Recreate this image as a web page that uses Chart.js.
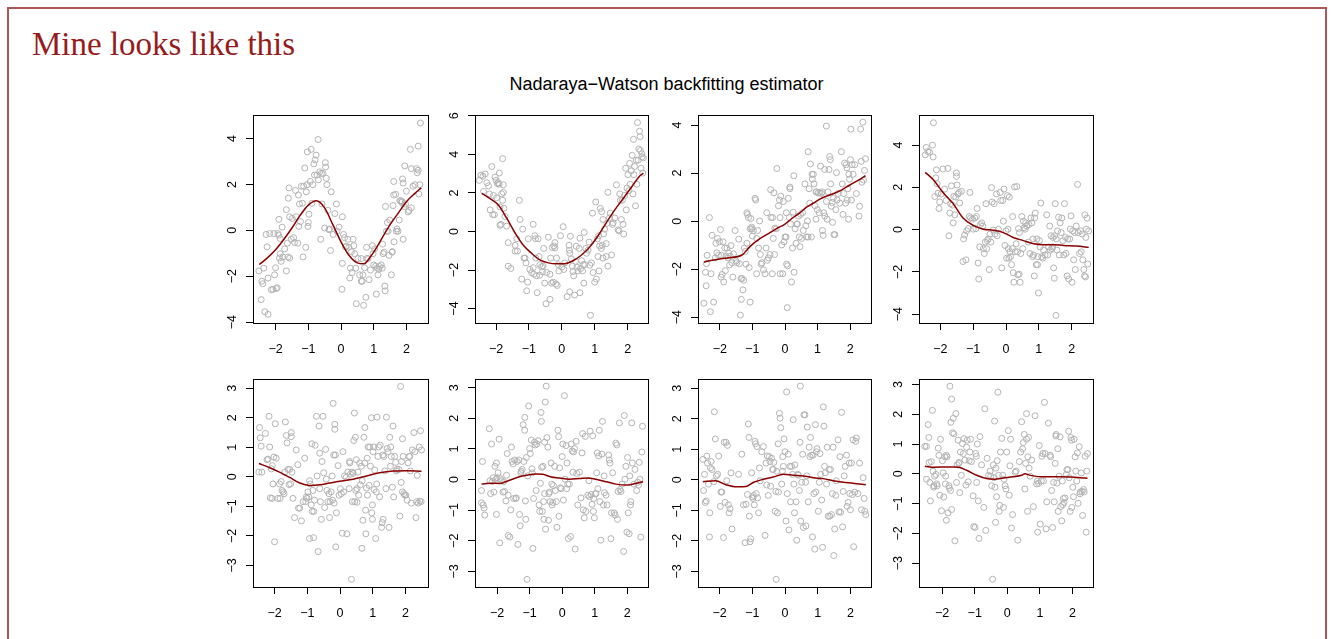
<!DOCTYPE html>
<html><head><meta charset="utf-8">
<script src="https://cdn.jsdelivr.net/npm/chart.js@4.4.0/dist/chart.umd.min.js"></script>
<style>
html,body{margin:0;padding:0;background:#fff;}
body{width:1332px;height:639px;overflow:hidden;position:relative;}
#frame{position:absolute;left:7px;top:7px;width:1320px;height:700px;border:2px solid #b05555;box-sizing:border-box;}
#slideTitle{position:absolute;left:32px;top:28px;font-family:"Liberation Serif","Times New Roman",serif;font-size:33px;line-height:33px;color:#961c1c;white-space:nowrap;}
#mainTitle{position:absolute;left:0;width:1333px;top:75px;text-align:center;font-family:"Liberation Sans",Arial,sans-serif;font-size:18px;line-height:18px;color:#000;white-space:nowrap;}
canvas{position:absolute;}
</style></head><body>
<div id="frame"></div>
<div id="slideTitle">Mine looks like this</div>
<div id="mainTitle">Nadaraya&#8722;Watson backfitting estimator</div>
<script>
const xTicks = [-2,-1,0,1,2];
const yTicksA = [-4,-2,0,2,4];
const yTicksB = [-4,-2,0,2,4,6];
const yTicksC = [-3,-2,-1,0,1,2,3];

const pts1 = [[-2.51,-1.77],[-2.44,-3.02],[-2.42,-2.22],[-2.39,-2.33],[-2.36,-1.65],[-2.33,-3.55],[-2.23,-3.66],[-2.29,-0.18],[-2.23,-2.08],[-2.26,-0.72],[-2.18,-0.14],[-2.13,-2.59],[-2.08,-2.57],[-2.05,-0.14],[-2.03,-1.94],[-2.00,-1.63],[-1.98,-2.54],[-1.95,-2.50],[-1.93,-0.14],[-1.90,-0.21],[-1.88,-1.21],[-1.86,-1.02],[-1.86,-0.36],[-1.83,-1.35],[-1.90,0.48],[-1.78,-1.16],[-1.80,0.14],[-1.72,-0.81],[-1.67,-1.77],[-1.67,0.90],[-1.64,-0.56],[-1.62,-1.16],[-1.59,1.85],[-1.61,1.40],[-1.57,0.59],[-1.57,-1.21],[-1.52,-0.39],[-1.49,0.52],[-1.45,-0.32],[-1.42,-0.53],[-1.39,1.74],[-1.37,0.59],[-1.32,-0.56],[-1.30,1.54],[-1.29,0.17],[-1.27,1.15],[-1.24,0.38],[-1.21,1.92],[-1.18,1.18],[-1.16,-1.16],[-1.14,1.92],[-1.11,2.72],[-1.08,-0.74],[-1.06,1.68],[-1.04,1.99],[-1.03,3.42],[-1.01,0.17],[-1.00,0.34],[-0.98,0.70],[-0.94,2.13],[-0.91,3.53],[-0.89,1.18],[-0.86,1.99],[-0.83,2.90],[-0.81,2.41],[-0.79,3.07],[-0.76,3.28],[-0.73,2.41],[-0.70,3.96],[-0.69,2.20],[-0.65,2.55],[-0.62,-0.39],[-0.60,2.48],[-0.58,1.15],[-0.55,2.48],[-0.50,0.10],[-0.48,2.95],[-0.47,2.76],[-0.45,2.27],[-0.43,1.99],[-0.40,0.87],[-0.37,0.03],[-0.35,0.06],[-0.30,1.68],[-0.32,-0.88],[-0.24,-0.18],[-0.19,0.73],[-0.14,1.15],[-0.12,-0.04],[-0.06,0.14],[0.04,0.59],[0.03,-2.57],[0.04,-1.44],[0.08,-0.18],[0.11,-0.32],[0.14,-0.72],[0.16,-0.70],[0.21,-0.39],[0.24,-0.74],[0.27,-2.08],[0.29,-1.65],[0.32,-0.93],[0.34,-1.84],[0.37,-0.39],[0.39,-0.67],[0.42,-1.02],[0.45,-1.65],[0.47,-3.20],[0.52,-1.23],[0.57,-1.94],[0.62,-1.23],[0.62,-2.22],[0.65,-2.22],[0.67,-1.94],[0.69,-3.27],[0.72,-1.63],[0.76,-2.92],[0.78,-0.74],[0.79,-1.23],[0.83,-1.23],[0.86,-2.15],[0.90,-1.73],[0.96,-0.67],[0.98,-1.02],[1.00,-1.51],[1.03,-0.81],[1.06,-1.56],[1.08,-2.78],[1.10,-1.65],[1.13,-1.94],[1.16,-1.69],[1.18,-1.58],[1.23,-1.51],[1.26,-1.65],[1.27,-0.60],[1.29,-1.02],[1.32,-0.95],[1.34,-2.43],[1.35,-2.64],[1.36,1.04],[1.39,-0.04],[1.42,0.34],[1.44,-0.04],[1.47,-1.09],[1.49,0.45],[1.54,-1.94],[1.56,-0.95],[1.57,-0.93],[1.59,1.08],[1.61,1.54],[1.61,2.13],[1.62,-0.50],[1.67,1.57],[1.69,-0.04],[1.71,0.06],[1.74,-0.04],[1.78,0.45],[1.80,1.29],[1.83,1.29],[1.85,1.22],[1.87,1.25],[1.88,2.24],[1.90,-0.39],[1.90,2.06],[1.93,1.04],[1.95,2.81],[1.97,1.15],[2.00,1.71],[2.05,0.80],[2.08,0.87],[2.12,3.53],[2.15,0.98],[2.15,2.69],[2.20,1.92],[2.26,1.99],[2.31,2.69],[2.33,2.51],[2.36,3.67],[2.36,2.62],[2.38,1.58],[2.41,1.99],[2.43,4.68]];
const fit1 = [[-2.5,-1.49],[-2.25,-1.2],[-2.0,-0.85],[-1.75,-0.4],[-1.5,0.1],[-1.25,0.65],[-1.0,1.1],[-0.75,1.29],[-0.5,0.98],[-0.25,0.25],[0.0,-0.5],[0.25,-1.1],[0.5,-1.42],[0.7,-1.46],[0.9,-1.15],[1.0,-0.95],[1.25,-0.35],[1.5,0.25],[1.75,0.75],[2.0,1.25],[2.25,1.6],[2.45,1.85]];

const pts2 = [[-2.51,2.65],[-2.46,2.92],[-2.40,2.87],[-2.33,2.98],[-2.38,2.08],[-2.28,2.53],[-2.23,2.37],[-2.20,1.95],[-2.18,1.12],[-2.13,3.37],[-2.10,0.87],[-2.08,1.87],[-2.05,0.87],[-2.03,2.82],[-2.00,2.65],[-1.98,1.75],[-1.96,2.48],[-1.93,2.53],[-1.91,2.45],[-1.90,3.03],[-1.88,1.28],[-1.88,0.32],[-1.85,0.37],[-1.83,1.95],[-1.80,3.78],[-1.80,1.62],[-1.78,2.03],[-1.78,2.42],[-1.76,1.20],[-1.73,0.78],[-1.68,0.28],[-1.63,-0.58],[-1.63,-1.80],[-1.55,-1.92],[-1.42,-0.72],[-1.42,-1.02],[-1.37,-0.38],[-1.35,-1.02],[-1.29,1.62],[-1.27,0.62],[-1.22,-2.47],[-1.19,0.12],[-1.15,-1.38],[-1.12,-1.38],[-1.09,-1.63],[-1.07,-3.08],[-1.04,-2.63],[-1.02,-0.38],[-0.97,-1.97],[-0.92,-2.13],[-0.87,0.37],[-0.87,-1.88],[-0.85,-2.22],[-0.82,-0.22],[-0.80,-0.38],[-0.79,-1.38],[-0.77,-2.30],[-0.75,-3.18],[-0.72,-0.38],[-0.69,-1.30],[-0.67,-1.72],[-0.67,-2.27],[-0.62,-1.83],[-0.59,-2.10],[-0.57,-1.80],[-0.55,-0.88],[-0.52,-2.68],[-0.48,-3.75],[-0.46,-2.13],[-0.41,-0.30],[-0.36,-3.52],[-0.36,-2.22],[-0.34,-1.38],[-0.31,-2.68],[-0.29,-0.83],[-0.26,-2.63],[-0.24,-0.75],[-0.21,-0.85],[-0.21,-0.58],[-0.18,-2.72],[-0.16,-1.38],[-0.14,-2.80],[-0.11,-1.72],[-0.09,-2.05],[-0.04,-0.22],[0.00,-1.85],[0.04,0.25],[0.06,-1.97],[0.09,-1.63],[0.16,-3.38],[0.22,-0.72],[0.23,-0.97],[0.24,-1.13],[0.24,-3.13],[0.26,-0.25],[0.29,-1.42],[0.32,-1.80],[0.34,-2.08],[0.36,-2.30],[0.39,-3.30],[0.42,-1.55],[0.44,-0.77],[0.46,-1.85],[0.49,-2.05],[0.53,-0.88],[0.55,-0.35],[0.55,-3.18],[0.57,-1.92],[0.60,-1.52],[0.63,-2.05],[0.65,-1.72],[0.67,-2.68],[0.68,-0.05],[0.70,-1.72],[0.73,-0.88],[0.75,-1.13],[0.80,-0.97],[0.83,-0.55],[0.85,-1.75],[0.87,-4.35],[0.90,-1.63],[0.93,0.95],[0.95,-2.13],[1.00,-2.63],[1.03,1.53],[1.05,-2.47],[1.08,-0.38],[1.10,-1.30],[1.12,-0.22],[1.13,-2.05],[1.15,-0.75],[1.17,1.20],[1.20,-0.88],[1.21,1.03],[1.23,-0.72],[1.25,0.62],[1.25,-1.38],[1.27,-0.13],[1.30,0.12],[1.35,-1.30],[1.35,-0.63],[1.37,0.42],[1.40,2.03],[1.40,-1.80],[1.45,0.70],[1.47,0.95],[1.51,-1.22],[1.54,0.37],[1.56,0.45],[1.61,0.70],[1.66,2.42],[1.71,0.08],[1.74,0.03],[1.76,1.95],[1.78,1.62],[1.81,0.62],[1.84,1.62],[1.86,0.37],[1.88,-0.13],[1.91,1.87],[1.94,3.28],[1.96,1.12],[1.98,2.25],[2.01,2.95],[2.04,2.12],[2.06,3.53],[2.08,2.45],[2.11,3.15],[2.14,3.95],[2.16,1.95],[2.18,4.78],[2.19,2.95],[2.21,3.37],[2.24,1.33],[2.26,3.70],[2.28,2.45],[2.30,5.65],[2.32,3.70],[2.34,4.28],[2.36,5.20],[2.38,4.92],[2.39,4.20],[2.41,3.28],[2.43,4.03],[2.44,3.87],[2.46,3.03],[2.48,3.82]];
const fit2 = [[-2.43,1.98],[-2.18,1.70],[-1.93,1.37],[-1.68,0.70],[-1.42,-0.08],[-1.17,-0.72],[-0.92,-1.13],[-0.67,-1.47],[-0.41,-1.63],[-0.16,-1.68],[0.09,-1.67],[0.34,-1.52],[0.60,-1.22],[0.85,-0.80],[1.10,-0.22],[1.35,0.45],[1.61,1.12],[1.86,1.70],[2.11,2.28],[2.36,2.87],[2.48,3.03]];

const pts3 = [[-2.49,-3.42],[-2.44,-2.13],[-2.42,-2.69],[-2.41,-1.77],[-2.39,-1.42],[-2.32,0.15],[-2.29,-3.77],[-2.27,-2.19],[-2.24,-0.59],[-2.19,-3.37],[-2.14,-1.53],[-2.12,-0.92],[-2.09,-1.32],[-2.07,-0.72],[-2.04,-1.42],[-2.01,-0.86],[-1.98,-0.35],[-1.96,-2.33],[-1.95,-1.42],[-1.93,-2.22],[-1.90,-0.86],[-1.88,-2.53],[-1.85,-1.12],[-1.83,-2.06],[-1.81,-1.46],[-1.78,-1.12],[-1.75,-1.53],[-1.73,-1.32],[-1.70,-1.82],[-1.68,-1.46],[-1.66,-1.02],[-1.63,-1.73],[-1.60,-2.33],[-1.58,-1.36],[-1.53,-0.39],[-1.50,-1.66],[-1.48,-1.73],[-1.42,-0.75],[-1.40,-1.77],[-1.37,-3.91],[-1.35,-2.39],[-1.34,-3.26],[-1.32,-2.39],[-1.29,-2.86],[-1.27,-2.46],[-1.25,-1.12],[-1.22,-1.26],[-1.20,-1.79],[-1.17,-0.92],[-1.17,0.35],[-1.15,0.28],[-1.12,0.15],[-1.10,-1.93],[-1.07,-3.37],[-1.07,-0.32],[-1.05,0.11],[-1.02,-0.25],[-1.02,-0.32],[-1.00,-0.62],[-0.97,-0.39],[-0.92,0.95],[-0.90,0.88],[-0.87,-2.19],[-0.87,-0.72],[-0.84,-0.39],[-0.81,-1.12],[-0.78,0.01],[-0.76,-1.39],[-0.73,-1.79],[-0.71,-1.73],[-0.66,-2.03],[-0.61,-2.19],[-0.58,-1.12],[-0.56,0.35],[-0.54,-1.63],[-0.51,-1.53],[-0.46,-1.39],[-0.44,1.31],[-0.43,0.15],[-0.39,-2.19],[-0.38,0.15],[-0.36,-0.72],[-0.34,1.18],[-0.32,-1.39],[-0.31,-0.29],[-0.27,-0.32],[-0.25,2.19],[-0.20,0.64],[-0.17,0.88],[-0.15,-2.19],[-0.15,0.15],[-0.13,1.04],[-0.10,-0.99],[-0.07,-2.19],[-0.05,0.82],[-0.03,-0.86],[0.00,-0.66],[0.03,-0.66],[0.04,0.35],[0.05,-1.79],[0.07,-3.60],[0.08,-1.86],[0.10,0.95],[0.13,0.15],[0.15,1.42],[0.15,1.35],[0.17,-0.12],[0.20,-2.53],[0.23,-1.12],[0.25,0.37],[0.27,1.89],[0.28,-2.13],[0.31,-0.32],[0.34,-0.92],[0.36,-0.12],[0.38,-0.12],[0.41,0.21],[0.44,-0.66],[0.46,-1.06],[0.48,0.28],[0.51,-0.72],[0.54,0.35],[0.56,-0.39],[0.61,1.55],[0.64,-0.19],[0.66,-0.66],[0.69,0.01],[0.71,-0.66],[0.71,2.89],[0.74,1.35],[0.76,0.75],[0.78,2.38],[0.81,-0.66],[0.83,1.95],[0.84,1.75],[0.87,1.95],[0.89,1.55],[0.92,0.64],[0.95,1.22],[0.95,0.08],[0.97,1.22],[0.99,0.48],[1.02,1.18],[1.05,0.35],[1.07,1.18],[1.09,2.29],[1.12,1.15],[1.14,1.22],[1.15,-0.39],[1.17,-0.59],[1.19,0.35],[1.22,2.15],[1.22,0.21],[1.27,3.96],[1.27,0.82],[1.29,0.08],[1.32,1.22],[1.35,2.15],[1.37,2.69],[1.39,2.56],[1.40,1.55],[1.42,0.62],[1.45,0.78],[1.46,-0.05],[1.48,0.95],[1.50,-0.56],[1.53,-0.56],[1.56,0.48],[1.58,2.02],[1.60,0.88],[1.63,1.15],[1.68,0.75],[1.73,2.89],[1.76,1.55],[1.78,0.28],[1.80,1.15],[1.83,2.42],[1.86,0.75],[1.88,2.35],[1.90,2.22],[1.91,0.88],[1.93,1.35],[1.95,0.08],[1.96,1.95],[1.98,1.75],[2.01,2.56],[2.02,3.83],[2.04,0.88],[2.06,2.35],[2.09,1.95],[2.14,2.35],[2.19,1.15],[2.27,0.21],[2.29,0.62],[2.32,3.83],[2.34,2.49],[2.36,1.62],[2.39,4.12],[2.41,1.71],[2.44,2.11],[2.47,2.60]];
const fit3 = [[-2.49,-1.70],[-2.19,-1.62],[-1.78,-1.53],[-1.32,-1.41],[-1.07,-1.05],[-0.76,-0.72],[-0.46,-0.48],[-0.25,-0.30],[0.0,-0.12],[0.20,0.10],[0.46,0.35],[0.66,0.58],[0.87,0.75],[1.07,0.92],[1.27,1.04],[1.48,1.14],[1.68,1.26],[1.88,1.42],[2.09,1.58],[2.28,1.73],[2.47,1.89]];

const pts4 = [[-2.46,3.54],[-2.43,3.89],[-2.38,3.70],[-2.33,3.67],[-2.24,4.00],[-2.22,3.44],[-2.21,5.06],[-2.17,1.57],[-2.14,2.45],[-2.12,2.83],[-2.10,2.17],[-2.07,1.72],[-2.04,1.00],[-2.02,1.31],[-1.97,1.69],[-1.92,2.87],[-1.87,1.92],[-1.82,1.38],[-1.77,2.90],[-1.74,-0.29],[-1.71,0.78],[-1.69,1.23],[-1.66,2.07],[-1.63,1.16],[-1.61,0.32],[-1.59,1.57],[-1.56,0.70],[-1.53,1.54],[-1.51,2.52],[-1.51,2.68],[-1.49,2.11],[-1.46,1.69],[-1.43,1.76],[-1.41,1.26],[-1.36,1.81],[-1.31,-1.51],[-1.29,-0.44],[-1.26,-0.26],[-1.22,-1.43],[-1.20,-0.06],[-1.15,0.05],[-1.12,0.62],[-1.10,1.76],[-1.08,0.55],[-1.02,0.50],[-1.00,0.02],[-0.95,0.55],[-0.92,0.05],[-0.90,0.62],[-0.88,1.00],[-0.85,-1.58],[-0.83,-2.34],[-0.80,-0.82],[-0.78,0.24],[-0.74,0.32],[-0.71,0.17],[-0.69,-0.90],[-0.66,-1.13],[-0.63,-0.59],[-0.61,1.23],[-0.59,-0.90],[-0.57,-0.52],[-0.54,-0.44],[-0.51,-1.89],[-0.49,-0.21],[-0.46,-0.59],[-0.44,1.99],[-0.42,1.31],[-0.39,-0.02],[-0.36,1.23],[-0.34,-0.21],[-0.29,1.69],[-0.27,-0.29],[-0.23,0.02],[-0.18,1.76],[-0.16,1.38],[-0.13,-1.81],[-0.10,1.38],[-0.08,0.40],[-0.06,1.92],[-0.03,-0.75],[0.00,-0.06],[0.02,-1.35],[0.04,1.61],[0.06,0.02],[0.07,-0.90],[0.09,-1.35],[0.10,1.54],[0.12,-1.05],[0.14,-1.28],[0.17,-1.66],[0.19,-0.90],[0.20,0.62],[0.22,-2.04],[0.24,-2.49],[0.26,2.02],[0.28,-1.05],[0.31,-0.67],[0.33,2.04],[0.35,-1.05],[0.36,-2.14],[0.38,0.05],[0.40,-2.11],[0.41,-0.14],[0.43,-2.49],[0.45,-1.13],[0.48,0.62],[0.51,-0.90],[0.53,0.40],[0.55,0.09],[0.58,0.02],[0.60,0.32],[0.63,0.17],[0.68,-0.59],[0.70,0.24],[0.73,-1.13],[0.76,0.55],[0.79,0.32],[0.81,-1.28],[0.82,-0.44],[0.84,-1.20],[0.86,-2.19],[0.87,0.55],[0.89,0.78],[0.92,-1.66],[0.94,-0.44],[0.96,-1.66],[0.97,-1.28],[0.99,-3.00],[1.02,-0.52],[1.04,-0.82],[1.06,1.26],[1.09,-1.28],[1.12,-1.35],[1.14,-0.97],[1.19,-1.20],[1.24,0.70],[1.27,-1.20],[1.30,-0.82],[1.33,0.17],[1.35,-0.97],[1.37,-0.29],[1.40,-0.90],[1.42,-0.82],[1.43,-0.37],[1.45,-1.81],[1.47,-2.30],[1.48,-0.29],[1.50,1.23],[1.52,-4.06],[1.53,-0.44],[1.55,-0.97],[1.57,-0.06],[1.60,0.59],[1.62,-1.20],[1.65,0.32],[1.68,-0.14],[1.70,0.55],[1.73,-0.52],[1.76,-1.20],[1.78,1.23],[1.81,-0.37],[1.83,-1.13],[1.86,-2.19],[1.88,-0.44],[1.91,-2.34],[1.94,-0.44],[1.96,0.02],[1.98,0.65],[2.01,-2.49],[2.03,-0.06],[2.06,-1.43],[2.09,-0.14],[2.11,-1.89],[2.14,0.17],[2.18,2.14],[2.20,-0.14],[2.24,-1.13],[2.27,-0.06],[2.29,-1.05],[2.32,-0.21],[2.34,-1.43],[2.37,-1.89],[2.39,-2.19],[2.40,0.70],[2.42,-2.24],[2.43,-0.37],[2.45,0.02],[2.47,0.55],[2.49,-1.63],[2.52,-0.06]];
const fit4 = [[-2.46,2.71],[-2.22,2.37],[-1.92,1.76],[-1.61,1.23],[-1.31,0.55],[-1.00,0.20],[-0.69,0.02],[-0.39,-0.03],[-0.08,-0.14],[0.22,-0.37],[0.53,-0.52],[0.84,-0.67],[1.14,-0.71],[1.45,-0.71],[1.76,-0.75],[2.16,-0.78],[2.52,-0.84]];

const pts5 = [[-2.48,0.16],[-2.46,1.67],[-2.44,1.32],[-2.41,1.04],[-2.39,0.16],[-2.28,1.47],[-2.23,0.58],[-2.20,0.60],[-2.17,2.05],[-2.15,1.01],[-2.13,-0.71],[-2.10,0.27],[-2.08,-0.73],[-2.07,0.38],[-2.05,-0.24],[-2.02,0.67],[-2.00,-2.20],[-1.98,1.80],[-1.95,0.63],[-1.90,-0.73],[-1.85,-0.24],[-1.83,-0.73],[-1.80,-0.16],[-1.77,-0.46],[-1.74,-0.51],[-1.71,-0.57],[-1.69,0.16],[-1.67,1.86],[-1.64,1.40],[-1.62,1.15],[-1.59,0.25],[-1.56,-0.26],[-1.54,0.25],[-1.51,-0.24],[-1.49,1.50],[-1.49,1.36],[-1.47,0.16],[-1.44,-0.73],[-1.39,-1.38],[-1.34,0.91],[-1.29,0.41],[-1.27,-1.06],[-1.23,-1.06],[-1.18,-1.49],[-1.13,-0.84],[-1.08,0.63],[-1.05,-0.84],[-1.03,-0.68],[-1.01,-0.73],[-0.98,-0.51],[-0.95,-0.68],[-0.93,-2.09],[-0.93,-0.13],[-0.91,-0.24],[-0.88,-0.95],[-0.86,1.12],[-0.85,-1.17],[-0.83,-0.46],[-0.81,-2.06],[-0.80,-1.17],[-0.78,-0.79],[-0.76,1.07],[-0.72,2.05],[-0.70,0.03],[-0.67,-2.53],[-0.64,1.72],[-0.62,0.80],[-0.62,-0.40],[-0.60,-0.84],[-0.57,-1.44],[-0.55,0.52],[-0.52,2.05],[-0.50,0.14],[-0.47,-1.04],[-0.44,0.93],[-0.42,-0.08],[-0.40,-0.46],[-0.37,-0.84],[-0.34,-0.57],[-0.32,-1.38],[-0.30,-0.84],[-0.27,-0.51],[-0.24,0.03],[-0.23,-0.79],[-0.21,2.49],[-0.19,0.74],[-0.18,-0.89],[-0.16,1.78],[-0.16,1.61],[-0.14,0.74],[-0.13,-2.37],[-0.11,-1.22],[-0.06,0.38],[-0.03,-0.62],[0.01,-0.40],[0.04,-0.57],[0.07,-1.91],[0.09,0.85],[0.11,-0.51],[0.14,0.03],[0.19,-0.02],[0.21,-1.93],[0.24,0.16],[0.28,-0.40],[0.29,0.52],[0.30,0.47],[0.32,0.09],[0.35,-3.47],[0.37,0.16],[0.38,-0.84],[0.40,0.12],[0.42,1.23],[0.44,2.16],[0.45,-0.84],[0.47,1.34],[0.48,-0.46],[0.50,0.58],[0.52,-0.40],[0.52,-0.86],[0.55,0.16],[0.57,-0.62],[0.60,0.47],[0.62,-0.27],[0.65,0.36],[0.67,-2.42],[0.68,-0.13],[0.70,-1.47],[0.73,1.34],[0.76,0.47],[0.76,1.67],[0.78,-1.13],[0.79,-1.93],[0.81,-0.38],[0.83,0.63],[0.84,-0.62],[0.86,1.01],[0.89,-0.29],[0.91,1.01],[0.93,0.36],[0.96,2.00],[0.97,-1.22],[0.99,-0.95],[0.99,-1.44],[1.01,0.85],[1.03,1.01],[1.04,-0.43],[1.06,0.23],[1.09,-2.09],[1.11,-0.51],[1.12,-0.24],[1.13,2.02],[1.16,0.69],[1.18,1.01],[1.21,-0.68],[1.23,1.07],[1.27,-1.71],[1.29,-1.55],[1.31,0.74],[1.32,-1.44],[1.34,0.69],[1.37,0.20],[1.40,-0.40],[1.42,2.02],[1.44,0.96],[1.47,0.85],[1.50,-1.71],[1.52,1.34],[1.54,0.36],[1.55,1.01],[1.57,0.69],[1.60,-0.35],[1.62,1.72],[1.64,-0.68],[1.67,0.69],[1.70,0.49],[1.72,0.20],[1.74,0.25],[1.80,0.25],[1.83,-1.33],[1.85,3.06],[1.87,-0.19],[1.88,0.52],[1.91,1.29],[1.91,-0.51],[1.93,0.69],[1.95,-0.57],[1.98,-0.62],[2.01,-0.62],[2.05,-0.79],[2.08,0.47],[2.11,0.69],[2.13,0.69],[2.15,0.20],[2.18,-0.89],[2.21,0.91],[2.26,1.50],[2.29,0.85],[2.32,-1.38],[2.34,-0.84],[2.36,0.05],[2.39,-0.89],[2.42,1.01],[2.44,-0.82],[2.46,1.56],[2.48,-0.84],[2.49,0.91]];
const fit5 = [[-2.48,0.45],[-2.15,0.31],[-1.85,0.16],[-1.54,-0.02],[-1.23,-0.21],[-0.93,-0.29],[-0.62,-0.27],[-0.32,-0.21],[-0.01,-0.15],[0.40,-0.08],[0.81,0.03],[1.21,0.14],[1.62,0.20],[2.03,0.21],[2.49,0.19]];

const pts6 = [[-2.48,-0.36],[-2.48,-0.76],[-2.45,0.59],[-2.43,-0.83],[-2.40,-0.93],[-2.38,-1.16],[-2.24,1.66],[-2.22,-0.04],[-2.20,-0.46],[-2.17,1.16],[-2.15,-0.07],[-2.12,0.06],[-2.10,-0.41],[-2.07,0.43],[-2.04,0.01],[-2.02,-1.14],[-2.02,0.54],[-2.00,0.06],[-1.97,0.22],[-1.94,1.32],[-1.92,-2.07],[-1.90,0.03],[-1.87,-0.04],[-1.82,-0.41],[-1.80,-0.07],[-1.77,-0.39],[-1.73,-0.70],[-1.71,0.14],[-1.69,0.85],[-1.66,-1.83],[-1.66,-0.51],[-1.61,-1.88],[-1.58,-0.99],[-1.56,1.06],[-1.54,0.59],[-1.51,0.51],[-1.49,-0.62],[-1.46,0.64],[-1.43,-0.62],[-1.41,-0.60],[-1.39,0.59],[-1.36,-2.12],[-1.33,0.64],[-1.31,-1.14],[-1.29,-1.51],[-1.27,0.22],[-1.26,0.27],[-1.23,0.33],[-1.20,1.79],[-1.18,0.59],[-1.15,2.03],[-1.15,1.61],[-1.13,-0.70],[-1.12,-1.30],[-1.10,0.72],[-1.08,-3.26],[-1.06,0.12],[-1.03,2.40],[-1.00,1.01],[-0.98,0.85],[-0.95,1.29],[-0.93,0.35],[-0.92,0.22],[-0.90,-2.25],[-0.88,-0.62],[-0.85,1.22],[-0.83,1.13],[-0.80,-0.36],[-0.78,1.16],[-0.74,1.27],[-0.71,-0.83],[-0.69,-1.04],[-0.67,-0.12],[-0.65,2.19],[-0.64,1.90],[-0.63,0.40],[-0.61,-1.04],[-0.59,0.43],[-0.57,-0.72],[-0.56,-1.30],[-0.54,1.22],[-0.54,-0.46],[-0.52,2.53],[-0.51,-1.62],[-0.49,3.05],[-0.47,1.37],[-0.44,1.06],[-0.42,-1.33],[-0.41,-0.46],[-0.39,-0.41],[-0.37,-0.72],[-0.34,0.54],[-0.32,-0.15],[-0.31,-0.83],[-0.29,-0.75],[-0.27,-0.20],[-0.23,0.43],[-0.21,-0.36],[-0.18,-0.72],[-0.16,-1.56],[-0.13,1.61],[-0.11,1.40],[-0.10,-1.20],[-0.08,0.38],[-0.06,-0.27],[-0.03,-0.30],[0.00,0.75],[0.02,1.16],[0.04,-0.67],[0.07,2.74],[0.09,0.01],[0.12,1.11],[0.14,-0.30],[0.15,0.54],[0.17,-0.15],[0.19,-1.93],[0.22,-0.15],[0.26,-1.86],[0.28,1.16],[0.31,0.93],[0.33,0.24],[0.35,0.90],[0.38,1.01],[0.40,-2.27],[0.43,1.25],[0.45,0.20],[0.48,-0.83],[0.53,0.24],[0.58,-0.60],[0.61,0.87],[0.63,1.50],[0.65,-0.99],[0.68,-1.25],[0.71,1.41],[0.73,-1.04],[0.79,-0.51],[0.82,-0.04],[0.84,-0.56],[0.86,1.58],[0.89,-0.49],[0.92,-0.81],[0.94,1.43],[0.96,-1.04],[0.97,-0.62],[0.99,-1.25],[1.02,-0.46],[1.04,-0.46],[1.06,0.22],[1.08,0.87],[1.10,-0.30],[1.12,0.77],[1.14,1.61],[1.16,-0.72],[1.19,-1.98],[1.22,0.83],[1.24,1.90],[1.27,-0.83],[1.29,0.12],[1.30,-0.43],[1.35,-0.51],[1.38,-0.83],[1.43,0.80],[1.45,0.64],[1.47,0.54],[1.50,-1.93],[1.52,-1.09],[1.55,0.22],[1.60,-1.09],[1.63,-1.16],[1.65,1.19],[1.68,1.13],[1.70,-1.30],[1.72,-0.39],[1.76,1.85],[1.78,-0.33],[1.81,-0.39],[1.84,-0.15],[1.89,-2.35],[1.91,2.09],[1.93,0.01],[1.96,0.43],[1.99,-1.72],[2.01,0.72],[2.03,-1.09],[2.06,-1.77],[2.08,0.12],[2.10,-0.83],[2.11,-0.72],[2.14,1.85],[2.16,0.54],[2.21,-0.15],[2.24,0.33],[2.29,-0.36],[2.32,-0.09],[2.35,-0.18],[2.37,0.56],[2.39,0.01],[2.42,-1.88],[2.45,0.90],[2.47,1.74]];
const fit6 = [[-2.48,-0.15],[-2.22,-0.12],[-1.92,-0.13],[-1.66,-0.04],[-1.41,0.06],[-1.10,0.14],[-0.80,0.18],[-0.59,0.17],[-0.34,0.08],[-0.08,0.05],[0.22,0.01],[0.53,0.03],[0.79,0.05],[1.04,0.01],[1.35,-0.07],[1.65,-0.15],[1.96,-0.18],[2.21,-0.14],[2.49,-0.07]];

const pts7 = [[-2.51,0.67],[-2.49,-0.35],[-2.46,0.18],[-2.44,-0.74],[-2.41,-0.69],[-2.39,0.78],[-2.37,0.55],[-2.34,-0.14],[-2.31,-1.87],[-2.30,-1.08],[-2.28,0.39],[-2.26,0.60],[-2.23,0.34],[-2.18,-0.06],[-2.16,2.23],[-2.13,1.34],[-2.10,0.13],[-2.06,0.18],[-2.03,0.78],[-1.98,-0.87],[-1.96,-0.40],[-1.93,-0.40],[-1.88,-1.89],[-1.86,1.23],[-1.83,-0.74],[-1.80,1.23],[-1.78,-0.03],[-1.76,1.13],[-1.73,-0.82],[-1.71,-1.08],[-1.68,-0.95],[-1.65,0.23],[-1.62,-1.61],[-1.42,0.18],[-1.32,0.84],[-1.27,-0.82],[-1.22,-2.06],[-1.19,-0.80],[-1.15,-0.48],[-1.12,1.83],[-1.10,1.39],[-1.09,-1.19],[-1.07,-2.03],[-1.05,-1.93],[-1.02,0.23],[-0.99,-0.56],[-0.98,-0.61],[-0.96,-0.51],[-0.94,-0.82],[-0.92,1.26],[-0.90,1.18],[-0.88,-0.45],[-0.86,1.09],[-0.84,-0.59],[-0.81,-1.08],[-0.78,0.39],[-0.76,-0.03],[-0.71,0.92],[-0.66,1.09],[-0.61,-1.82],[-0.58,0.55],[-0.56,-0.17],[-0.54,0.78],[-0.51,-0.51],[-0.48,0.76],[-0.46,0.60],[-0.44,-0.21],[-0.41,0.71],[-0.38,0.34],[-0.36,0.34],[-0.34,0.57],[-0.30,-1.03],[-0.28,-0.38],[-0.27,-3.26],[-0.25,0.28],[-0.23,-1.08],[-0.21,1.18],[-0.20,-0.40],[-0.17,2.18],[-0.15,2.02],[-0.13,1.71],[-0.10,-0.14],[-0.08,0.28],[-0.07,0.76],[-0.05,0.44],[-0.03,1.34],[0.00,0.92],[0.03,-1.35],[0.05,2.88],[0.07,-0.45],[0.10,0.84],[0.12,-1.64],[0.15,0.44],[0.17,-0.72],[0.20,0.44],[0.23,0.18],[0.25,1.97],[0.27,-0.14],[0.29,-1.08],[0.30,0.49],[0.34,-0.72],[0.36,-1.98],[0.39,0.18],[0.41,0.15],[0.44,-0.35],[0.46,1.23],[0.47,3.07],[0.48,-1.35],[0.51,-0.08],[0.54,0.84],[0.56,-1.56],[0.58,2.13],[0.61,2.13],[0.63,-0.08],[0.64,-1.51],[0.66,0.13],[0.68,1.73],[0.71,-0.72],[0.74,1.07],[0.76,0.76],[0.78,1.39],[0.81,0.81],[0.84,-1.87],[0.86,0.81],[0.88,-0.45],[0.91,-2.27],[0.93,1.81],[0.94,-0.40],[0.96,0.92],[0.98,1.02],[1.02,-1.03],[1.05,-0.08],[1.07,0.86],[1.09,0.18],[1.12,-0.66],[1.15,-2.21],[1.17,2.39],[1.19,1.76],[1.21,0.44],[1.23,0.23],[1.27,-0.14],[1.29,1.07],[1.32,-1.19],[1.35,0.34],[1.37,-1.19],[1.39,0.34],[1.42,-1.14],[1.45,-0.45],[1.47,1.07],[1.49,-2.48],[1.52,-1.61],[1.55,-0.51],[1.57,-0.03],[1.62,1.31],[1.65,-1.05],[1.68,0.76],[1.70,-1.06],[1.73,2.21],[1.76,-1.54],[1.78,-0.38],[1.81,0.13],[1.84,0.44],[1.88,0.81],[1.90,-0.87],[1.93,-0.74],[1.96,0.55],[1.98,-0.45],[2.00,-0.98],[2.03,0.55],[2.06,-0.48],[2.08,1.31],[2.10,-2.19],[2.13,-0.40],[2.16,1.26],[2.18,1.37],[2.23,-0.45],[2.28,0.55],[2.34,-0.98],[2.39,0.07],[2.42,-0.61],[2.44,-1.03],[2.47,-1.14]];
const fit7 = [[-2.51,-0.06],[-2.13,-0.03],[-1.78,-0.17],[-1.47,-0.23],[-1.19,-0.22],[-0.96,-0.08],[-0.66,0.02],[-0.36,0.09],[-0.05,0.18],[0.25,0.15],[0.56,0.13],[0.86,0.07],[1.17,0.04],[1.47,-0.03],[1.78,-0.08],[2.08,-0.11],[2.47,-0.16]];

const pts8 = [[-2.53,0.92],[-2.48,0.92],[-2.48,-0.18],[-2.43,1.65],[-2.41,1.22],[-2.40,0.38],[-2.38,-0.29],[-2.36,-0.91],[-2.33,0.41],[-2.30,2.13],[-2.28,0.09],[-2.26,-0.45],[-2.25,-0.40],[-2.23,-0.08],[-2.19,-0.02],[-2.17,-0.34],[-2.15,-0.40],[-2.12,0.86],[-2.10,0.62],[-2.07,-0.72],[-2.05,1.16],[-2.02,-1.24],[-1.99,0.44],[-1.97,0.03],[-1.95,-0.78],[-1.92,0.57],[-1.90,-0.34],[-1.89,-0.08],[-1.87,0.62],[-1.87,-1.56],[-1.85,0.57],[-1.82,-1.31],[-1.79,-0.40],[-1.78,-0.48],[-1.76,2.94],[-1.74,-0.56],[-1.73,1.73],[-1.71,2.51],[-1.71,-1.20],[-1.68,1.38],[-1.66,1.86],[-1.64,1.34],[-1.61,-2.25],[-1.58,2.02],[-1.56,-0.29],[-1.54,0.30],[-1.51,1.13],[-1.49,0.35],[-1.48,0.38],[-1.46,-0.63],[-1.44,0.73],[-1.41,-0.05],[-1.38,1.02],[-1.35,0.68],[-1.33,1.18],[-1.30,0.46],[-1.27,-0.38],[-1.25,0.89],[-1.23,1.13],[-1.20,-0.27],[-1.17,0.44],[-1.15,0.73],[-1.13,1.16],[-1.10,0.41],[-1.05,-0.74],[-1.03,-1.77],[-0.99,-1.80],[-0.97,0.68],[-0.95,0.59],[-0.94,-0.29],[-0.92,1.00],[-0.89,-0.91],[-0.87,-2.17],[-0.84,1.25],[-0.79,0.30],[-0.72,-1.13],[-0.69,2.18],[-0.66,-1.90],[-0.62,0.52],[-0.58,-0.05],[-0.53,0.09],[-0.51,-0.08],[-0.48,-0.40],[-0.45,-3.54],[-0.43,0.30],[-0.41,-0.13],[-0.39,1.77],[-0.38,-0.45],[-0.36,-1.63],[-0.35,0.19],[-0.33,-0.77],[-0.31,0.44],[-0.29,2.74],[-0.27,-0.05],[-0.25,-1.26],[-0.23,-1.06],[-0.21,0.73],[-0.17,1.19],[-0.14,-0.05],[-0.12,-1.13],[-0.10,-0.18],[-0.07,-0.40],[-0.04,-0.51],[-0.02,0.73],[0.03,1.45],[0.06,-0.72],[0.08,0.27],[0.10,1.16],[0.13,-1.82],[0.16,-1.37],[0.24,0.05],[0.27,0.09],[0.32,-2.23],[0.37,0.41],[0.41,0.73],[0.44,1.75],[0.47,0.84],[0.49,1.05],[0.52,1.32],[0.54,-0.51],[0.56,0.35],[0.59,2.02],[0.59,1.16],[0.62,-1.26],[0.63,0.57],[0.65,1.22],[0.67,0.19],[0.70,-0.08],[0.75,0.46],[0.80,-1.10],[0.85,1.95],[0.90,-0.34],[0.92,-0.24],[0.93,-1.96],[0.96,-0.32],[0.98,0.95],[1.01,-1.69],[1.04,-0.24],[1.06,0.59],[1.09,0.68],[1.11,-0.24],[1.14,2.40],[1.16,0.68],[1.19,-1.85],[1.21,-0.94],[1.26,1.70],[1.31,0.62],[1.33,0.57],[1.36,-0.56],[1.39,-1.80],[1.42,-0.29],[1.44,-0.94],[1.47,0.35],[1.49,1.27],[1.50,1.32],[1.52,-0.31],[1.55,0.84],[1.56,-1.26],[1.59,-0.08],[1.62,1.24],[1.64,-1.10],[1.67,-1.58],[1.69,-0.24],[1.70,-1.04],[1.72,-0.83],[1.74,-0.96],[1.77,-0.81],[1.81,-0.02],[1.83,0.14],[1.86,0.14],[1.88,1.43],[1.90,-0.13],[1.93,-1.26],[1.95,1.22],[1.97,1.13],[1.98,-1.13],[2.01,-0.45],[2.03,-0.77],[2.05,1.16],[2.08,0.57],[2.10,0.09],[2.13,-0.24],[2.15,0.70],[2.17,-0.99],[2.21,0.91],[2.23,-0.67],[2.24,-0.61],[2.27,0.03],[2.29,-0.59],[2.31,-1.40],[2.34,-0.53],[2.36,-0.61],[2.39,0.59],[2.42,-1.96],[2.44,0.09],[2.46,0.68]];
const fit8 = [[-2.53,0.25],[-2.23,0.22],[-1.87,0.23],[-1.56,0.23],[-1.25,0.12],[-0.94,-0.05],[-0.64,-0.16],[-0.38,-0.18],[-0.12,-0.14],[0.18,-0.10],[0.44,-0.05],[0.54,0.0],[0.70,-0.05],[1.01,-0.10],[1.31,-0.10],[1.62,-0.10],[1.93,-0.11],[2.24,-0.13],[2.46,-0.15]];

// layout (pixel boxes of each plotting region) and axis ranges
const colLeft = [253, 475, 698, 919];
const colRight = [429, 649, 872, 1094];
const rowTop = [107, 371];
const rowBottom = [323, 587];
const panels = [
  {pts: pts1, fit: fit1, yt: yTicksA, xr: [-2.69, 2.69], yr: [-4.04, 5.05], c: 0, r: 0},
  {pts: pts2, fit: fit2, yt: yTicksB, xr: [-2.64, 2.65], yr: [-4.75, 6.07], c: 1, r: 0},
  {pts: pts3, fit: fit3, yt: yTicksA, xr: [-2.67, 2.67], yr: [-4.24, 4.44], c: 2, r: 0},
  {pts: pts4, fit: fit4, yt: yTicksA, xr: [-2.65, 2.68], yr: [-4.42, 5.45], c: 3, r: 0},
  {pts: pts5, fit: fit5, yt: yTicksC, xr: [-2.66, 2.72], yr: [-3.73, 3.33], c: 0, r: 1},
  {pts: pts6, fit: fit6, yt: yTicksC, xr: [-2.68, 2.67], yr: [-3.51, 3.30], c: 1, r: 1},
  {pts: pts7, fit: fit7, yt: yTicksC, xr: [-2.66, 2.66], yr: [-3.51, 3.32], c: 2, r: 1},
  {pts: pts8, fit: fit8, yt: yTicksC, xr: [-2.71, 2.66], yr: [-3.80, 3.20], c: 3, r: 1}
];

Chart.defaults.font.family = '"Liberation Sans", Arial, sans-serif';
Chart.defaults.color = '#000';

const YW = 50, XH = 45, PT = 6, PR = 6;
const fmt = v => (v < 0 ? '\u2212' + Math.abs(v) : String(v));

const boxPlugin = {
  id: 'boxFrame',
  afterDraw(chart) {
    const a = chart.chartArea, ctx = chart.ctx;
    ctx.save();
    ctx.strokeStyle = '#000';
    ctx.lineWidth = 1;
    ctx.strokeRect(Math.round(a.left) + 0.5, Math.round(a.top) + 0.5,
      Math.round(a.right - a.left) - 1, Math.round(a.bottom - a.top) - 1);
    ctx.restore();
  }
};

panels.forEach((p, i) => {
  const L = colLeft[p.c], R = colRight[p.c], T = rowTop[p.r], B = rowBottom[p.r];
  const cv = document.createElement('canvas');
  const W = (R - L) + YW + PR, H = (B - T) + PT + XH;
  cv.width = W; cv.height = H;
  cv.style.left = (L - YW) + 'px';
  cv.style.top = (T - PT) + 'px';
  cv.style.width = W + 'px'; cv.style.height = H + 'px';
  document.body.appendChild(cv);
  new Chart(cv, {
    type: 'scatter',
    data: {
      datasets: [
        {data: p.fit.map(d => ({x: d[0], y: d[1]})), showLine: true, borderColor: '#8b0000',
         borderWidth: 1.5, pointRadius: 0, cubicInterpolationMode: 'monotone', fill: false},
        {data: p.pts.map(d => ({x: d[0], y: d[1]})), showLine: false, pointStyle: 'circle',
         pointRadius: 3, borderWidth: 1, borderColor: '#b3b3b3', backgroundColor: 'rgba(0,0,0,0)'}
      ]
    },
    options: {
      responsive: false, animation: false, devicePixelRatio: 1,
      layout: {padding: {top: PT, right: PR, left: 0, bottom: 0}},
      plugins: {legend: {display: false}, tooltip: {enabled: false}, title: {display: false}},
      scales: {
        x: {
          type: 'linear', position: 'bottom', min: p.xr[0], max: p.xr[1],
          afterBuildTicks: s => { s.ticks = xTicks.map(v => ({value: v})); },
          afterFit: s => { s.height = XH; },
          grid: {drawOnChartArea: false, drawTicks: true, tickLength: 7, color: '#000', lineWidth: 1},
          border: {display: false},
          ticks: {font: {size: 12.5}, color: '#000', padding: 12, maxRotation: 0, minRotation: 0, callback: fmt}
        },
        y: {
          type: 'linear', position: 'left', min: p.yr[0], max: p.yr[1],
          afterBuildTicks: s => { s.ticks = p.yt.map(v => ({value: v})); },
          afterFit: s => { s.width = YW; },
          grid: {drawOnChartArea: false, drawTicks: true, tickLength: 7, color: '#000', lineWidth: 1},
          border: {display: false},
          ticks: {font: {size: 12.5}, color: '#000', padding: 6, minRotation: 90, maxRotation: 90,
                  crossAlign: 'center', callback: fmt}
        }
      }
    },
    plugins: [boxPlugin]
  });
});
</script>
</body></html>
